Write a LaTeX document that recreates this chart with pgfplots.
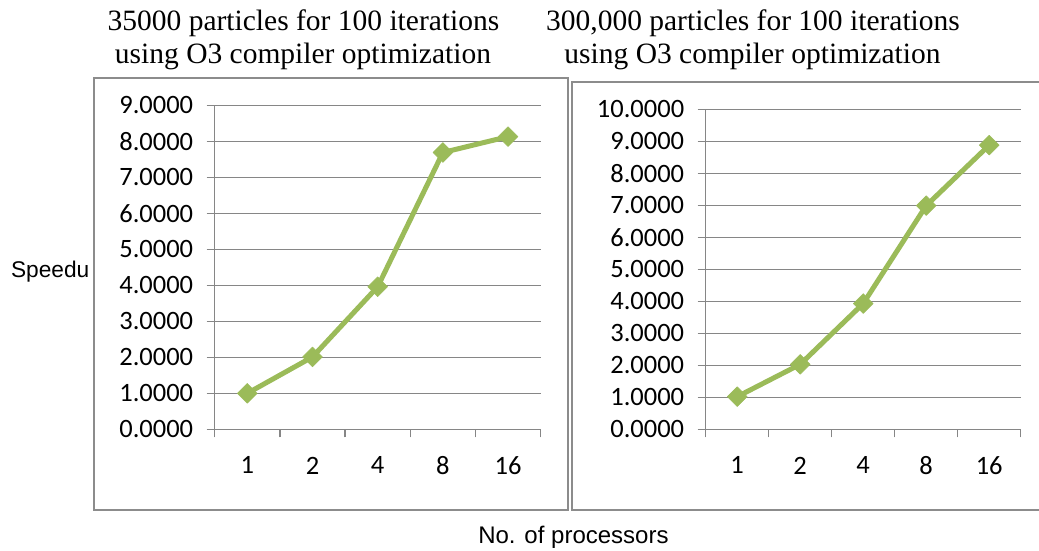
\documentclass[border=0pt]{standalone}
\usepackage{pgfplots}
\usepackage{pgfplotstable}
\pgfplotsset{compat=1.18}
\usepackage{fontspec}
\setmainfont{Carlito}
\newfontfamily\timesf{Liberation Serif}
\newfontfamily\arialf{Liberation Sans}
\definecolor{gridgray}{HTML}{868686}
\definecolor{boxgray}{HTML}{8C8C8C}
\definecolor{xlgreen}{HTML}{9BBB59}
\pgfplotstableread{
x y
0 1.0000
1 2.0100
2 3.9600
3 7.6900
4 8.1300
}\leftdata
\pgfplotstableread{
x y
0 1.0200
1 2.0300
2 3.9300
3 6.9900
4 8.8800
}\rightdata
\pgfplotsset{
  speedstyle/.style={
    scale only axis,
    xmin=-0.5, xmax=4.5, ymin=0,
    xtick={0,...,4},
    xticklabels={1,2,4,8,16},
    minor xtick={-0.5,0.5,...,4.5},
    major x tick style={draw=none},
    minor x tick style={draw=gridgray, line width=1.5pt},
    major y tick style={draw=gridgray, line width=1.5pt},
    minor tick length=8pt,
    major tick length=8pt,
    tick align=outside,
    ymajorgrids,
    grid style={draw=gridgray, line width=1.5pt},
    axis x line*=bottom, axis y line*=left,
    axis line style={draw=gridgray, line width=1.5pt, -},
    tick label style={font=\fontsize{26.5}{31}\selectfont},
    scaled y ticks=false,
    /pgf/number format/fixed,
    /pgf/number format/fixed zerofill,
    /pgf/number format/precision=4,
    /pgf/number format/assume math mode=true,
    yticklabel style={anchor=east, xshift=-10pt},
    xticklabel style={anchor=north, yshift=-16pt},
    clip=false,
  },
  speedline/.style={
    draw=xlgreen, line width=5pt, line join=round,
    mark=square*, mark size=7pt,
    mark options={rotate=45, fill=xlgreen, draw=xlgreen, line width=0.5pt, solid},
  }
}
\begin{document}
\begin{tikzpicture}[x=1pt,y=1pt]
\path[use as bounding box] (0,0) rectangle (1039,-550);
\begin{scope}
\clip (0,0) rectangle (89,-550);
\node[anchor=base west, font=\arialf\fontsize{22.7}{27}\selectfont, inner sep=0] at (10.8,-277) {Speedup};
\end{scope}
\draw[boxgray, line width=2pt, fill=white] (94.3,-77.7) rectangle (567.7,-510);
\draw[boxgray, line width=2pt, fill=white] (1045,-81.5) -- (571.7,-81.5) -- (571.7,-510) -- (1045,-510);
\node[anchor=base, font=\timesf\fontsize{29.5}{33}\selectfont, inner sep=0] at (303.5,-30) {35000 particles for 100 iterations};
\node[anchor=base, font=\timesf\fontsize{29.5}{33}\selectfont, inner sep=0] at (303,-63.3) {using O3 compiler optimization};
\node[anchor=base, font=\timesf\fontsize{29.5}{33}\selectfont, inner sep=0] at (753,-30) {300,000 particles for 100 iterations};
\node[anchor=base, font=\timesf\fontsize{29.5}{33}\selectfont, inner sep=0] at (752.5,-63.3) {using O3 compiler optimization};
\node[anchor=base, font=\arialf\fontsize{24}{28}\selectfont, inner sep=0] at (573.4,-543.3) {No. of processors};
\begin{axis}[speedstyle,
  at={(214.7pt,-429.3pt)}, anchor=south west,
  width=326pt, height=324pt,
  ymax=9, ytick={0,1,...,9}]
  \addplot[speedline] table[x=x,y=y] {\leftdata};
\end{axis}
\begin{axis}[speedstyle,
  at={(705.7pt,-429.3pt)}, anchor=south west,
  width=315pt, height=320pt,
  ymax=10, ytick={0,1,...,10}]
  \addplot[speedline] table[x=x,y=y] {\rightdata};
\end{axis}
\end{tikzpicture}
\end{document}
